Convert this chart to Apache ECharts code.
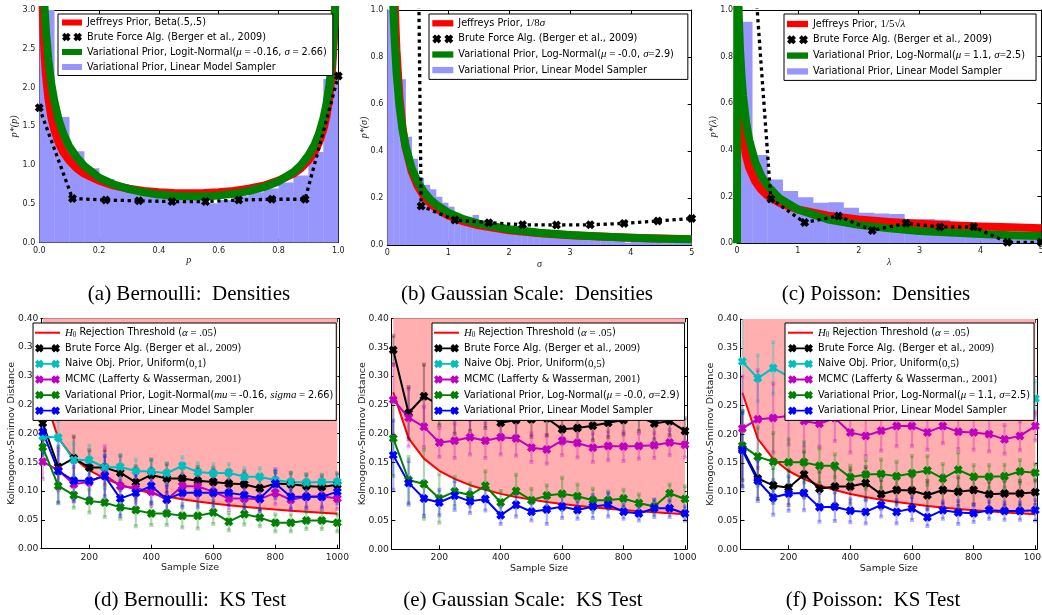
<!DOCTYPE html>
<html><head><meta charset="utf-8">
<script src="https://cdn.jsdelivr.net/npm/echarts@6/dist/echarts.min.js"></script>
<style>html,body{margin:0;padding:0;background:#fff}#c{width:1042px;height:615px}</style>
</head><body><div id="c"></div>
<script>
// ---------- Panel (a) Bernoulli densities ----------
const aCurveX = [0.008,0.01,0.013,0.017,0.022,0.03,0.04,0.05,0.065,0.08,0.1,0.125,0.15,0.2,0.25,0.3,0.35,0.4,0.45,0.5,0.55,0.6,0.65,0.7,0.75,0.8,0.85,0.875,0.9,0.92,0.935,0.95,0.96,0.97,0.978,0.983,0.987,0.99,0.992];
const aJeffY = [3.57,3.20,2.81,2.46,2.17,1.87,1.62,1.46,1.29,1.17,1.06,0.96,0.89,0.80,0.735,0.695,0.667,0.65,0.64,0.637,0.64,0.65,0.667,0.695,0.735,0.80,0.89,0.96,1.06,1.17,1.29,1.46,1.62,1.87,2.17,2.46,2.81,3.20,3.57];
const aVarY = [4.07,3.77,3.42,3.07,2.74,2.37,2.05,1.83,1.58,1.41,1.24,1.10,0.99,0.84,0.75,0.69,0.65,0.62,0.606,0.60,0.60,0.61,0.63,0.665,0.715,0.79,0.91,1.0,1.125,1.26,1.40,1.60,1.78,2.03,2.31,2.56,2.81,3.07,3.28];
const aHistEdges = [0,0.05,0.1,0.15,0.2,0.25,0.3,0.35,0.4,0.45,0.5,0.55,0.6,0.65,0.7,0.75,0.8,0.85,0.9,0.95,1.0];
const aHistY = [3.6,1.62,1.18,0.96,0.82,0.75,0.70,0.61,0.57,0.56,0.55,0.51,0.55,0.60,0.65,0.70,0.775,0.865,1.17,2.11];
const aBruteX = [0,0.111,0.222,0.333,0.444,0.556,0.667,0.778,0.889,1.0];
const aBruteY = [1.74,0.57,0.55,0.54,0.53,0.53,0.55,0.56,0.56,2.15];

// ---------- Panel (b) Gaussian scale densities ----------
const bJeffX = [0.1,0.125,0.15,0.2,0.25,0.3,0.4,0.5,0.6,0.7,0.8,1.0,1.25,1.5,2,2.5,3,3.5,4,4.5,5];
const bJeffY = [1.25,1.0,0.833,0.625,0.5,0.417,0.3125,0.25,0.208,0.179,0.156,0.125,0.1,0.0833,0.0625,0.05,0.0417,0.0357,0.0313,0.0278,0.025];
const bVarX = [0.08,0.1,0.12,0.15,0.2,0.25,0.3,0.4,0.5,0.6,0.7,0.8,1.0,1.25,1.5,2,2.5,3,3.5,4,4.5,5];
const bVarY = [1.18,1.0,0.878,0.74,0.59,0.491,0.421,0.327,0.268,0.226,0.195,0.172,0.138,0.11,0.091,0.067,0.052,0.043,0.036,0.031,0.027,0.024];
const bHistEdges = [0,0.1,0.2,0.3,0.4,0.5,0.6,0.7,0.8,0.9,1,1.1,1.2,1.3,1.4,1.5,1.6,1.7,1.8,1.9,2,2.1,2.2,2.3,2.4,2.5,2.6,2.7,2.8,2.9,3,3.1,3.2,3.3,3.4,3.5,3.6,3.7,3.8,3.9,4,4.1,4.2,4.3,4.4,4.5,4.6,4.7,4.8,4.9,5];
const bHistY = [3.0,0.85,0.705,0.461,0.367,0.285,0.256,0.237,0.205,0.18,0.163,0.13,0.115,0.10,0.128,0.09,0.082,0.076,0.07,0.066,0.062,0.058,0.055,0.052,0.05,0.047,0.045,0.043,0.041,0.039,0.037,0.035,0.034,0.033,0.031,0.03,0.029,0.028,0.027,0.01,0.025,0.024,0.024,0.023,0.022,0.008,0.008,0.01,0.02,0.018];
const bBruteX = [0,0.556,1.111,1.667,2.222,2.778,3.333,3.889,4.444,5.0];
const bBruteY = [13,0.166,0.106,0.095,0.086,0.085,0.086,0.092,0.102,0.113];

// ---------- Panel (c) Poisson densities ----------
const cJeffX = [0.065,0.1,0.15,0.2,0.3,0.4,0.5,0.7,1,1.5,2,2.5,3,3.5,4,4.5,5];
const cJeffY = [0.569,0.459,0.374,0.324,0.265,0.229,0.205,0.173,0.145,0.118,0.1025,0.0917,0.0837,0.0775,0.0725,0.0684,0.0648];
const cVarX = [0,0.005,0.01,0.02,0.03,0.05,0.075,0.1,0.15,0.2,0.3,0.4,0.5,0.7,1,1.5,2,2.5,3,3.5,4,4.5,5];
const cVarY = [0.0,1.21,1.18,1.07,0.97,0.83,0.715,0.632,0.518,0.444,0.348,0.288,0.247,0.192,0.145,0.102,0.079,0.064,0.053,0.046,0.040,0.035,0.031];
const cHistEdges = [0,0.25,0.5,0.75,1,1.25,1.5,1.75,2,2.25,2.5,2.75,3,3.25,3.5,3.75,4,4.25,4.5,4.75,5];
const cHistY = [0.95,0.379,0.274,0.224,0.197,0.174,0.176,0.152,0.131,0.128,0.126,0.103,0.104,0.101,0.055,0.05,0.045,0.04,0.035,0.03];
const cBruteX = [0,0.556,1.111,1.667,2.222,2.778,3.333,3.889,4.444,5.0];
const cBruteY = [2.2,0.19,0.089,0.117,0.055,0.086,0.07,0.071,0.004,0.004];

// ---------- KS test panels ----------
const ksX = [50,100,150,200,250,300,350,400,450,500,550,600,650,700,750,800,850,900,950,1000];
const ksThresh = [0.272,0.192,0.157,0.136,0.122,0.111,0.103,0.096,0.0907,0.086,0.082,0.0785,0.0754,0.0727,0.0702,0.068,0.066,0.0641,0.0624,0.0608];
const ksTicks = [200,400,600,800,1000];

const dBrute = [0.218,0.142,0.157,0.141,0.141,0.132,0.115,0.128,0.122,0.122,0.118,0.116,0.113,0.112,0.105,0.113,0.112,0.109,0.107,0.111];
const dNaive = [0.195,0.193,0.154,0.154,0.141,0.142,0.135,0.134,0.131,0.144,0.133,0.131,0.132,0.125,0.125,0.119,0.116,0.115,0.116,0.116];
const dMcmc  = [0.151,0.136,0.112,0.116,0.128,0.109,0.105,0.099,0.085,0.109,0.108,0.099,0.087,0.087,0.086,0.097,0.085,0.090,0.091,0.087];
const dVar   = [0.176,0.109,0.093,0.083,0.080,0.072,0.067,0.061,0.061,0.057,0.057,0.063,0.047,0.060,0.054,0.045,0.045,0.049,0.049,0.045];
const dLms   = [0.203,0.135,0.118,0.118,0.126,0.087,0.097,0.109,0.086,0.097,0.097,0.097,0.097,0.093,0.087,0.113,0.090,0.090,0.090,0.099];
const dBruteE = [0.03,0.035,0.038,0.03,0.03,0.03,0.028,0.027,0.025,0.025,0.024,0.024,0.023,0.022,0.02,0.02,0.02,0.02,0.02,0.02];
const dNaiveE = [0.03,0.03,0.028,0.025,0.022,0.02,0.02,0.02,0.018,0.015,0.016,0.016,0.015,0.015,0.015,0.015,0.014,0.014,0.013,0.013];
const dMcmcE  = [0.03,0.035,0.03,0.03,0.05,0.025,0.025,0.025,0.022,0.02,0.02,0.02,0.02,0.02,0.02,0.02,0.018,0.018,0.018,0.018];
const dVarE   = [0.025,0.03,0.022,0.02,0.025,0.02,0.028,0.02,0.02,0.02,0.022,0.02,0.015,0.018,0.015,0.015,0.015,0.015,0.015,0.015];
const dLmsE   = [0.04,0.055,0.035,0.03,0.035,0.03,0.03,0.03,0.025,0.025,0.025,0.025,0.022,0.022,0.022,0.025,0.02,0.02,0.02,0.02];

const eBrute = [0.345,0.236,0.265,0.25,0.23,0.235,0.24,0.219,0.224,0.225,0.227,0.208,0.21,0.214,0.219,0.224,0.23,0.218,0.222,0.205];
const eNaive = [0.52,0.5,0.49,0.48,0.47,0.47,0.46,0.46,0.45,0.45,0.45,0.44,0.44,0.44,0.44,0.43,0.43,0.43,0.43,0.43];
const eMcmc  = [0.259,0.228,0.212,0.185,0.188,0.194,0.188,0.194,0.192,0.176,0.173,0.188,0.184,0.176,0.179,0.178,0.179,0.180,0.185,0.181];
const eVar   = [0.192,0.12,0.113,0.088,0.10,0.094,0.11,0.081,0.101,0.085,0.093,0.096,0.092,0.085,0.085,0.088,0.080,0.074,0.097,0.087];
const eLms   = [0.163,0.115,0.088,0.081,0.093,0.083,0.087,0.059,0.077,0.065,0.069,0.074,0.068,0.074,0.077,0.065,0.062,0.071,0.071,0.062];
const eBruteE = [0.025,0.045,0.055,0.035,0.03,0.03,0.03,0.025,0.03,0.03,0.03,0.025,0.025,0.025,0.025,0.025,0.025,0.028,0.025,0.022];
const eNaiveE = [0.02,0.02,0.02,0.02,0.02,0.02,0.02,0.02,0.02,0.02,0.02,0.02,0.02,0.02,0.02,0.02,0.02,0.02,0.02,0.02];
const eMcmcE  = [0.06,0.05,0.035,0.025,0.03,0.03,0.03,0.03,0.03,0.025,0.025,0.025,0.025,0.025,0.025,0.025,0.022,0.022,0.022,0.022];
const eVarE   = [0.065,0.04,0.06,0.042,0.025,0.02,0.025,0.02,0.028,0.02,0.018,0.028,0.02,0.02,0.015,0.015,0.015,0.012,0.015,0.022];
const eLmsE   = [0.06,0.038,0.03,0.022,0.025,0.02,0.02,0.015,0.02,0.015,0.025,0.02,0.015,0.02,0.02,0.012,0.012,0.015,0.015,0.012];

const fBrute = [0.175,0.123,0.111,0.107,0.130,0.105,0.109,0.109,0.115,0.0955,0.103,0.102,0.094,0.103,0.100,0.103,0.0955,0.097,0.097,0.099];
const fNaive = [0.326,0.297,0.315,0.30,0.29,0.285,0.28,0.28,0.275,0.275,0.27,0.27,0.27,0.27,0.268,0.268,0.265,0.265,0.265,0.262];
const fMcmc  = [0.21,0.226,0.228,0.232,0.223,0.218,0.228,0.203,0.197,0.206,0.214,0.214,0.203,0.214,0.204,0.203,0.200,0.191,0.197,0.214];
const fVar   = [0.18,0.161,0.152,0.151,0.151,0.145,0.145,0.125,0.130,0.131,0.127,0.132,0.137,0.123,0.138,0.126,0.126,0.127,0.135,0.133];
const fLms   = [0.172,0.119,0.090,0.097,0.098,0.073,0.074,0.067,0.065,0.077,0.065,0.071,0.0556,0.068,0.064,0.0625,0.068,0.0665,0.0665,0.068];
const fBruteE = [0.065,0.035,0.03,0.03,0.04,0.03,0.03,0.03,0.028,0.025,0.025,0.025,0.025,0.025,0.025,0.025,0.022,0.022,0.022,0.022];
const fNaiveE = [0.09,0.04,0.045,0.04,0.035,0.03,0.03,0.03,0.03,0.03,0.03,0.03,0.03,0.03,0.03,0.03,0.03,0.03,0.03,0.03];
const fMcmcE  = [0.09,0.085,0.06,0.05,0.045,0.04,0.04,0.035,0.035,0.035,0.035,0.035,0.03,0.03,0.03,0.03,0.03,0.025,0.025,0.025];
const fVarE   = [0.06,0.05,0.05,0.04,0.035,0.03,0.02,0.02,0.025,0.025,0.025,0.03,0.025,0.025,0.03,0.02,0.02,0.02,0.02,0.015];
const fLmsE   = [0.065,0.035,0.03,0.03,0.03,0.025,0.025,0.02,0.02,0.02,0.02,0.02,0.015,0.015,0.02,0.015,0.015,0.015,0.015,0.018];

// ---------- Texts ----------
const BRUTE = 'Brute Force Alg. (Berger et al., 2009)';
const BRUTE_M = 'Brute Force Alg. (Berger et al., {r|2009})';
const LMS = 'Variational Prior, Linear Model Sampler';
const H0 = '{m|H}{sub|0} Rejection Threshold ({m|α}{r| = .05})';
const LABELS = {
  a_j:'Jeffreys Prior, Beta(.5,.5)', a_b:BRUTE, a_v:'Variational Prior, Logit-Normal({m|μ}{r| = }-0.16, {m|σ}{r| = }2.66)', a_h:LMS,
  b_j:'Jeffreys Prior, {r|1/8}{m|σ}', b_b:BRUTE, b_v:'Variational Prior, Log-Normal({m|μ}{r| = }-0.0, {m|σ}{r|=}2.9)', b_h:LMS,
  c_j:'Jeffreys Prior, {r|1/5√}{m|λ}', c_b:BRUTE, c_v:'Variational Prior, Log-Normal({m|μ}{r| = }1.1, {m|σ}{r|=}2.5)', c_h:LMS,
  d_t:H0, d_b:BRUTE_M, d_n:'Naive Obj. Prior, Uniform({r|0,1})', d_m:'MCMC (Lafferty & Wasserman, {r|2001})',
  d_v:'Variational Prior, Logit-Normal({m|mu}{r| = }-0.16, {m|sigma}{r| = }2.66)', d_l:LMS,
  e_t:H0, e_b:BRUTE_M, e_n:'Naive Obj. Prior, Uniform({r|0,5})', e_m:'MCMC (Lafferty & Wasserman, {r|2001})',
  e_v:'Variational Prior, Log-Normal({m|μ}{r| = }-0.0, {m|σ}{r|=}2.9)', e_l:LMS,
  f_t:H0, f_b:BRUTE_M, f_n:'Naive Obj. Prior, Uniform({r|0,5})', f_m:'MCMC (Lafferty & Wasserman., {r|2001})',
  f_v:'Variational Prior, Log-Normal({m|μ}{r| = }1.1, {m|σ}{r|=}2.5)', f_l:LMS
};
const CAPTIONS = [
  ['(a) Bernoulli:  Densities', 189, 294], ['(b) Gaussian Scale:  Densities', 527, 294], ['(c) Poisson:  Densities', 876, 294],
  ['(d) Bernoulli:  KS Test', 190, 600], ['(e) Gaussian Scale:  KS Test', 523, 600], ['(f) Poisson:  KS Test', 873, 600]
];

// ---------- Styling ----------
const FONT = 'DejaVu Sans', SERIF = 'Liberation Serif';
const RED='#ff0000', GREEN='#008000', BLUE='#0000ff', CYAN='#00bfbf', MAG='#bf00bf', BLACK='#000000';
const HIST='#9696fc', PINK='#ffafaf';
const LEGFS = 9.7;
const alpha = (hex,a)=>{const n=parseInt(hex.slice(1),16);return `rgba(${n>>16},${(n>>8)&255},${n&255},${a})`;};
const XS = [[3,0],[5,2],[7,0],[10,3],[8,5],[10,7],[7,10],[5,8],[3,10],[0,7],[2,5],[0,3]];
function xPoly(ox, oy, s){const k=s/10;return XS.map((p,i)=>(i?'L':'M')+(ox+p[0]*k).toFixed(2)+','+(oy+p[1]*k).toFixed(2)).join(' ')+' Z ';}
const XSYM = 'path://'+xPoly(0,0,10);
const ICON_RECT = 'path://M0,0 L20,0 L20,6 L0,6 Z';
const ICON_BRUTE = 'path://'+xPoly(0,0,9)+xPoly(12,0,9);
const ICON_KS = 'path://'+xPoly(0,0,8.5)+'M6,3.35 L19,3.35 L19,5.15 L6,5.15 Z '+xPoly(16.5,0,8.5);
const ICON_TH = 'path://M0,0 L25,0 L25,2 L0,2 Z';

const GRIDS = [
  {left:39.3, top:10, width:299, height:232.7},
  {left:387.3, top:10, width:304.4, height:235},
  {left:737, top:10, width:304.3, height:233.3},
  {left:40.9, top:318.3, width:298.3, height:230.4},
  {left:391.4, top:318.3, width:295.4, height:231},
  {left:740.5, top:319, width:296.7, height:230.3}
];
const ITAL = {fontFamily:SERIF, fontStyle:'italic', fontSize:10, color:'#222'};
const KSNS = {fontFamily:FONT,fontSize:9.5,color:'#222'};
const KSY = {min:0,max:0.4,interval:0.05,dec:2,name:'Kolmogorov-Smirnov Distance',gap:24,ns:KSNS,fs:9.2,margin:2.5};
const KSXA = {min:44,max:1006,custom:ksTicks,dec:0,name:'Sample Size',gap:14,ns:KSNS,fs:9.2,margin:4};
const AXES = [
  {x:{min:0,max:1,interval:0.2,dec:1,name:'p',gap:13,ns:ITAL,fs:8,margin:4}, y:{min:0,max:3,interval:0.5,dec:1,name:'p*(p)',gap:20,ns:ITAL,fs:8,margin:4}},
  {x:{min:0,max:5,interval:1,dec:0,name:'σ',gap:14,ns:ITAL,fs:8,margin:4}, y:{min:0,max:1,interval:0.2,dec:1,name:'p*(σ)',gap:18,ns:ITAL,fs:8,margin:4}},
  {x:{min:0,max:5,interval:1,dec:0,name:'λ',gap:14,ns:ITAL,fs:8,margin:4}, y:{min:0,max:1,interval:0.2,dec:1,name:'p*(λ)',gap:19,ns:ITAL,fs:8,margin:4}},
  {x:KSXA, y:KSY},
  {x:KSXA, y:KSY},
  {x:KSXA, y:Object.assign({},KSY,{gap:25})}
];

const xAxis=[], yAxis=[];
AXES.forEach((ax,g)=>{
  const base = (c)=>{
    const o = {type:'value', gridIndex:g, min:c.min, max:c.max, splitLine:{show:false},
      axisLine:{show:true,onZero:false,lineStyle:{color:'#000',width:1}},
      axisTick:{show:true,inside:true,length:4,lineStyle:{color:'#000',width:1}}};
    if (c.interval) o.interval = c.interval;
    if (c.custom) o.axisTick.customValues = c.custom;
    return o;
  };
  const lab = (c)=>{
    const l = {show:true, margin:c.margin, fontFamily:FONT, fontSize:c.fs, color:'#222', showMinLabel:true, showMaxLabel:true, formatter:v=>Number(v).toFixed(c.dec)};
    if (c.custom) l.customValues = c.custom;
    return l;
  };
  xAxis.push(Object.assign(base(ax.x), {position:'bottom', axisLabel:lab(ax.x), name:ax.x.name, nameLocation:'middle', nameGap:ax.x.gap, nameTextStyle:ax.x.ns, nameMoveOverlap:false}));
  xAxis.push(Object.assign(base(ax.x), {position:'top', axisLabel:{show:false}}));
  yAxis.push(Object.assign(base(ax.y), {position:'left', axisLabel:lab(ax.y), name:ax.y.name, nameLocation:'middle', nameRotate:90, nameGap:ax.y.gap, nameTextStyle:ax.y.ns, nameMoveOverlap:false}));
  yAxis.push(Object.assign(base(ax.y), {position:'right', axisLabel:{show:false}}));
});

const zip = (xs,ys)=>xs.map((x,i)=>[x,ys[i]]);
const series = [];
function curve(name,g,xs,ys,color,z){
  series.push({type:'line',name,xAxisIndex:2*g,yAxisIndex:2*g,data:zip(xs,ys),showSymbol:false,symbol:'none',clip:true,z,
    lineStyle:{color,width:8,join:'round'},itemStyle:{color,borderWidth:0}});
}
function brute(name,g,xs,ys){
  series.push({type:'line',name,xAxisIndex:2*g,yAxisIndex:2*g,data:zip(xs,ys),symbol:XSYM,symbolSize:9,showSymbol:true,showAllSymbol:true,clip:true,z:5,
    lineStyle:{color:BLACK,width:3.3,type:[3.3,3.6]},itemStyle:{color:BLACK,borderWidth:0}});
}
function hist(name,g,edges,hs){
  series.push({type:'custom',name,xAxisIndex:2*g,yAxisIndex:2*g,z:1,clip:true,itemStyle:{color:HIST},
    encode:{x:[0,1],y:2}, data:hs.map((h,i)=>[edges[i],edges[i+1],h]),
    renderItem:(params,api)=>{
      const p0=api.coord([api.value(0),api.value(2)]), p1=api.coord([api.value(1),0]);
      const cs=params.coordSys;
      const r=echarts.graphic.clipRectByRect({x:p0[0],y:p0[1],width:p1[0]-p0[0]+0.3,height:p1[1]-p0[1]},{x:cs.x,y:cs.y,width:cs.width,height:cs.height});
      return r?{type:'rect',shape:r,style:{fill:HIST}}:null;
    }});
}
function thresh(name,g){
  series.push({type:'line',name,xAxisIndex:2*g,yAxisIndex:2*g,data:zip(ksX,ksThresh),showSymbol:false,symbol:'none',clip:true,z:1,
    lineStyle:{color:RED,width:2},itemStyle:{color:RED,borderWidth:0},areaStyle:{origin:'end',color:PINK,opacity:1}});
}
function errbar(g,ys,es,color){
  const col=alpha(color,0.3);
  series.push({type:'custom',xAxisIndex:2*g,yAxisIndex:2*g,z:2,clip:true,silent:true,encode:{x:0,y:1},
    data:ksX.map((x,i)=>[x,ys[i],es[i]]),
    renderItem:(params,api)=>{
      const x=api.value(0),y=api.value(1),e=api.value(2);
      const lo=api.coord([x,y-e]), hi=api.coord([x,y+e]);
      const cs=params.coordSys;
      const top=Math.max(hi[1],cs.y), bot=Math.min(lo[1],cs.y+cs.height);
      const ch=[];
      if (top<bot) ch.push({type:'line',shape:{x1:lo[0],y1:bot,x2:lo[0],y2:top},style:{stroke:col,lineWidth:2.2}});
      [lo[1],hi[1]].forEach(yy=>{ if(yy>=cs.y&&yy<=cs.y+cs.height) ch.push({type:'rect',shape:{x:lo[0]-2,y:yy-2,width:4,height:4},style:{fill:col}}); });
      return {type:'group',children:ch};
    }});
}
function ksline(name,g,ys,color){
  series.push({type:'line',name,xAxisIndex:2*g,yAxisIndex:2*g,data:zip(ksX,ys),symbol:XSYM,symbolSize:9,showSymbol:true,showAllSymbol:true,clip:true,z:3,
    lineStyle:{color,width:2},itemStyle:{color,borderWidth:0}});
}

// top panels
hist('a_h',0,aHistEdges,aHistY); curve('a_j',0,aCurveX,aJeffY,RED,2); curve('a_v',0,aCurveX,aVarY,GREEN,3); brute('a_b',0,aBruteX,aBruteY);
hist('b_h',1,bHistEdges,bHistY); curve('b_j',1,bJeffX,bJeffY,RED,2); curve('b_v',1,bVarX,bVarY,GREEN,3); brute('b_b',1,bBruteX,bBruteY);
hist('c_h',2,cHistEdges,cHistY); curve('c_j',2,cJeffX,cJeffY,RED,2); curve('c_v',2,cVarX,cVarY,GREEN,3); brute('c_b',2,cBruteX,cBruteY);
// KS panels
const KS = [
  ['d',3,[dBrute,dNaive,dMcmc,dVar,dLms],[dBruteE,dNaiveE,dMcmcE,dVarE,dLmsE]],
  ['e',4,[eBrute,eNaive,eMcmc,eVar,eLms],[eBruteE,eNaiveE,eMcmcE,eVarE,eLmsE]],
  ['f',5,[fBrute,fNaive,fMcmc,fVar,fLms],[fBruteE,fNaiveE,fMcmcE,fVarE,fLmsE]]
];
const KSCOL=[BLACK,CYAN,MAG,GREEN,BLUE], KSKEY=['b','n','m','v','l'];
KS.forEach(([p,g,vals,errs])=>{
  thresh(p+'_t',g);
  vals.forEach((v,i)=>errbar(g,v,errs[i],KSCOL[i]));
  vals.forEach((v,i)=>ksline(p+'_'+KSKEY[i],g,v,KSCOL[i]));
});

const RICH = (fs)=>({
  m:{fontFamily:SERIF,fontStyle:'italic',fontSize:fs+1.2,lineHeight:12},
  r:{fontFamily:SERIF,fontSize:fs+1.2,lineHeight:12},
  sub:{fontFamily:SERIF,fontSize:fs-2.5,lineHeight:12,verticalAlign:'bottom'}
});
function legend(p,left,top,pad,iw,ih,gap,lh,items,icons){
  return {show:true,orient:'vertical',align:'left',left,top,padding:pad,itemWidth:iw,itemHeight:ih,itemGap:gap,
    backgroundColor:'#fff',borderColor:'#000',borderWidth:1,borderRadius:0,selectedMode:false,z:10,
    itemStyle:{borderWidth:0},
    textStyle:{fontFamily:FONT,fontSize:LEGFS,color:'#000',lineHeight:lh,rich:RICH(LEGFS)},
    formatter:n=>LABELS[n],
    data:items.map((k,i)=>({name:p+'_'+k,icon:icons[i]}))};
}
const TOPICONS=[ICON_RECT,ICON_BRUTE,ICON_RECT,ICON_RECT];
const KSICONS=[ICON_TH,ICON_KS,ICON_KS,ICON_KS,ICON_KS,ICON_KS];
const legends = [
  legend('a',58,14,[3,6,3,4],20,9,3.5,11,['j','b','v','h'],TOPICONS),
  legend('b',429,14,[3.3,14,3.3,3.3],21,9,3.6,12,['j','b','v','h'],TOPICONS),
  legend('c',784,14,[4,11,3,3],21,9,3.8,12,['j','b','v','h'],TOPICONS),
  legend('d',33,323,[3.7,3,3.7,2],25,8.5,3.6,12,['t','b','n','m','v','l'],KSICONS),
  legend('e',432,323,[3.7,5,3.7,2],25,8.5,3.6,12,['t','b','n','m','v','l'],KSICONS),
  legend('f',785,323,[3.7,4,3.7,3],25,8.5,3.6,12,['t','b','n','m','v','l'],KSICONS)
];

const chart = echarts.init(document.getElementById('c'), null, {renderer:'canvas'});
chart.setOption({
  animation:false,
  backgroundColor:'#ffffff',
  grid:GRIDS.map(g=>Object.assign({containLabel:false,outerBoundsMode:'none'},g)),
  xAxis, yAxis, series, legend:legends,
  graphic:CAPTIONS.map(([t,x,y])=>({type:'text',x,y,silent:true,style:{text:t,fill:'#000',font:'21px "Liberation Serif"',fontFamily:SERIF,fontSize:21,textAlign:'center',textVerticalAlign:'middle',align:'center',verticalAlign:'middle'}}))
});
</script></body></html>
